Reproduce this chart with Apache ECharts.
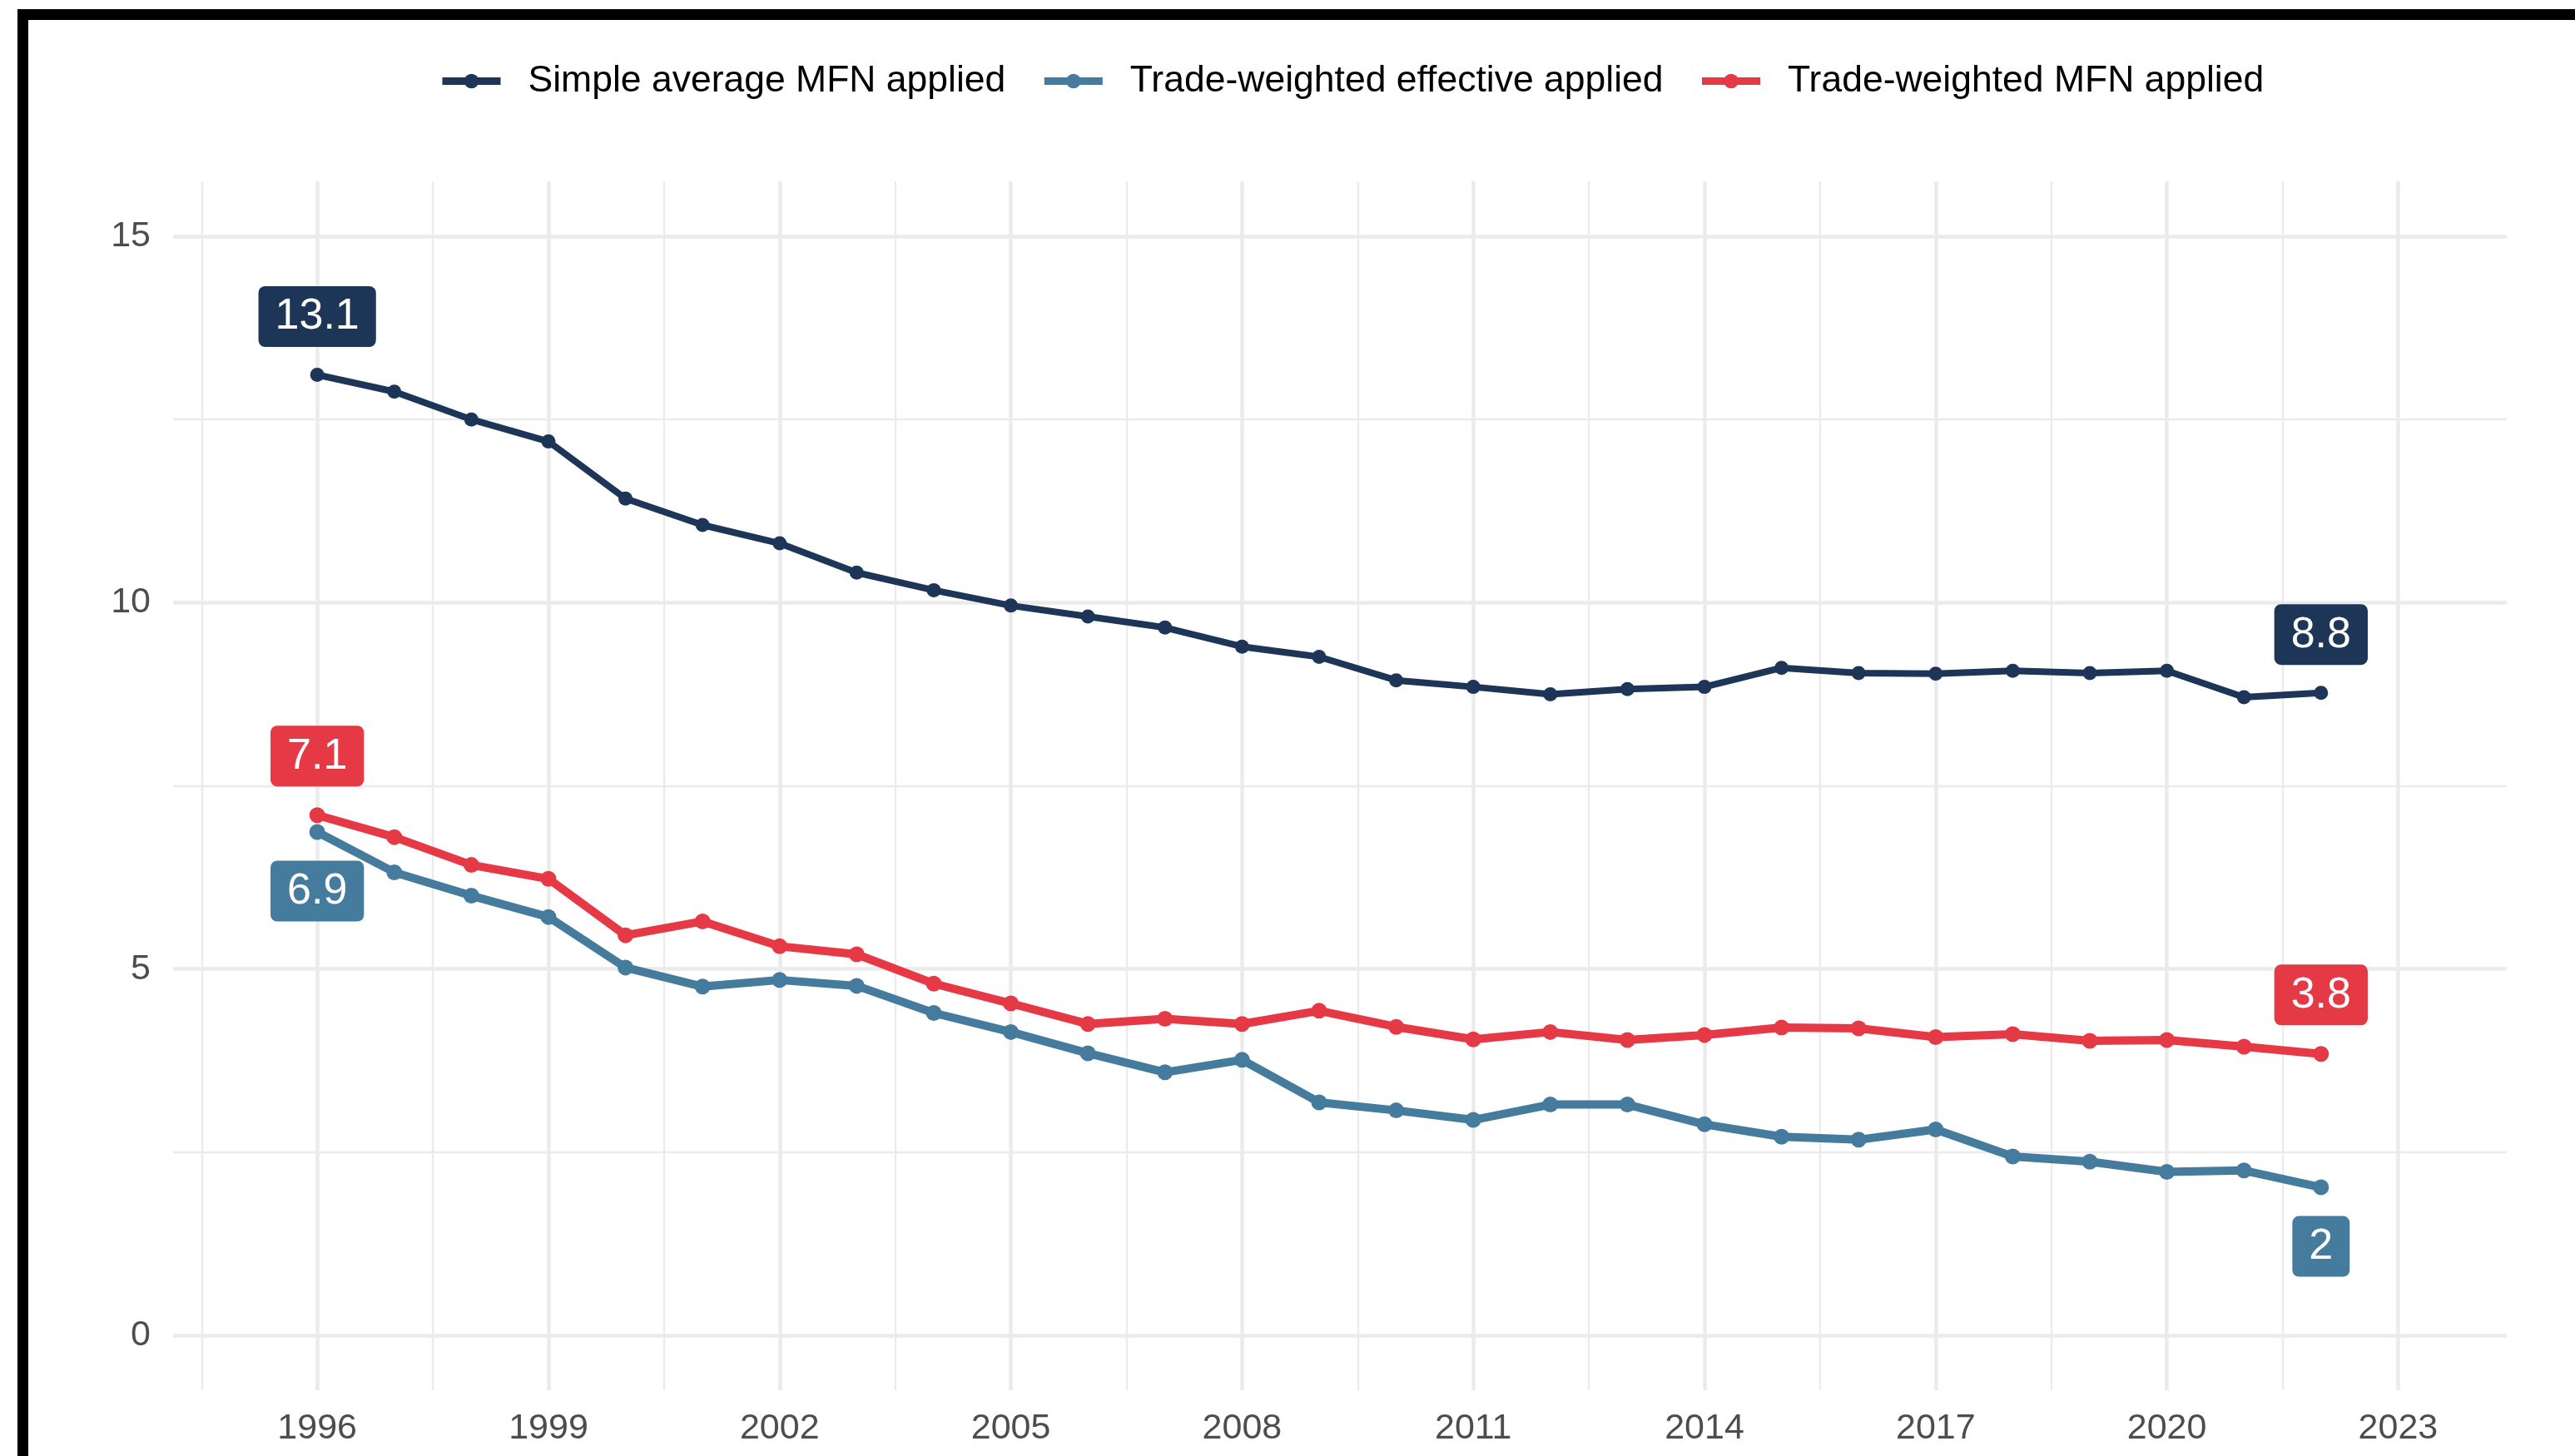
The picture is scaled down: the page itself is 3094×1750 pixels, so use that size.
<!DOCTYPE html>
<html>
<head>
<meta charset="utf-8">
<title>Tariff rates</title>
<script src="https://cdn.jsdelivr.net/npm/echarts@6/dist/echarts.min.js"></script>
<style>
  html, body { margin: 0; padding: 0; background: #fff; }
  #chart { width: 3094px; height: 1750px; }
</style>
</head>
<body>
<div id="chart"></div>
<script>
// data
var years = [1996, 1997, 1998, 1999, 2000, 2001, 2002, 2003, 2004, 2005, 2006, 2007, 2008, 2009,
             2010, 2011, 2012, 2013, 2014, 2015, 2016, 2017, 2018, 2019, 2020, 2021, 2022];
var simpleAvg = [13.11, 12.88, 12.50, 12.20, 11.42, 11.06, 10.81, 10.41, 10.17, 9.96, 9.81, 9.66, 9.40, 9.26,
                 8.94, 8.85, 8.75, 8.82, 8.85, 9.11, 9.04, 9.03, 9.07, 9.04, 9.07, 8.71, 8.77];
var tradeEffective = [6.87, 6.32, 6.00, 5.71, 5.02, 4.76, 4.85, 4.77, 4.40, 4.14, 3.85, 3.59, 3.76, 3.18,
                      3.07, 2.94, 3.15, 3.15, 2.88, 2.71, 2.67, 2.81, 2.44, 2.37, 2.23, 2.25, 2.02];
var tradeMfn = [7.10, 6.80, 6.42, 6.23, 5.46, 5.65, 5.31, 5.20, 4.80, 4.53, 4.25, 4.32, 4.25, 4.43,
                4.21, 4.04, 4.14, 4.03, 4.10, 4.20, 4.19, 4.07, 4.11, 4.02, 4.03, 3.94, 3.84];
var seriesNames = ['Simple average MFN applied', 'Trade-weighted effective applied', 'Trade-weighted MFN applied'];

var xTicks = [1996, 1999, 2002, 2005, 2008, 2011, 2014, 2017, 2020, 2023];
var xMinorTicks = [1994.5, 1997.5, 2000.5, 2003.5, 2006.5, 2009.5, 2012.5, 2015.5, 2018.5, 2021.5];
var yTicks = [0, 5, 10, 15];
var yMinorTicks = [2.5, 7.5, 12.5];

var colors = ['#1d3557', '#457b9d', '#e63946'];
var font = '"Liberation Sans", Arial, sans-serif';

function labelFmt(p) {
    return String(Math.round(p.value[1] * 10) / 10);
}

// first and last point of each line carry a boxed value label
function buildData(vals, firstPos, lastPos, color) {
    return vals.map(function (v, i) {
        var item = { value: [years[i], v] };
        var pos = i === 0 ? firstPos : (i === vals.length - 1 ? lastPos : null);
        if (pos) {
            item.label = {
                show: true,
                position: pos,
                distance: 25,
                formatter: labelFmt,
                color: '#fff',
                fontFamily: font,
                fontSize: 52,
                lineHeight: 52,
                padding: [11, 20, 10, 20],
                borderRadius: 8,
                backgroundColor: color
            };
        }
        return item;
    });
}

function makeSeries(name, vals, color, width, size, firstPos, lastPos) {
    return {
        name: name,
        type: 'line',
        data: buildData(vals, firstPos, lastPos, color),
        symbol: 'circle',
        symbolSize: size,
        showSymbol: true,
        color: color,
        lineStyle: { color: color, width: width },
        itemStyle: { color: color },
        emphasis: { disabled: true }
    };
}

var chart = echarts.init(document.getElementById('chart'));

var option = {
    animation: false,
    backgroundColor: '#fff',
    textStyle: { fontFamily: font },
    graphic: [
        { type: 'rect', shape: { x: 21, y: 11, width: 3094 - 21, height: 13 }, style: { fill: '#000' }, z: 100 },
        { type: 'rect', shape: { x: 21, y: 11, width: 13, height: 1750 - 11 }, style: { fill: '#000' }, z: 100 }
    ],
    legend: {
        data: seriesNames,
        left: 522,
        top: 70,
        itemWidth: 70,
        itemHeight: 22,
        itemGap: 42,
        lineStyle: { width: 9 },
        textStyle: { fontSize: 44.5, color: '#000', fontFamily: font, padding: [0, 0, 0, 28] }
    },
    grid: { left: 208, right: 82, top: 218, bottom: 79 },
    xAxis: [
        {
            type: 'value', min: 1994.13, max: 2024.41,
            axisLine: { show: false },
            axisTick: { show: false, customValues: xTicks },
            axisLabel: {
                customValues: xTicks, fontSize: 43, color: '#4d4d4d', margin: 25, fontFamily: font,
                formatter: function (v) { return String(v); }
            },
            splitLine: { show: true, lineStyle: { color: '#ebebeb', width: 4.5 } }
        },
        {
            type: 'value', min: 1994.13, max: 2024.41, position: 'bottom',
            axisLine: { show: false },
            axisTick: { show: false, customValues: xMinorTicks },
            axisLabel: { show: false },
            splitLine: { show: true, lineStyle: { color: '#ebebeb', width: 2.3 } }
        }
    ],
    yAxis: [
        {
            type: 'value', min: -0.75, max: 15.75,
            axisLine: { show: false },
            axisTick: { show: false, customValues: yTicks },
            axisLabel: { customValues: yTicks, fontSize: 43, color: '#4d4d4d', margin: 27, fontFamily: font },
            splitLine: { show: true, lineStyle: { color: '#ebebeb', width: 4.5 } }
        },
        {
            type: 'value', min: -0.75, max: 15.75, position: 'left',
            axisLine: { show: false },
            axisTick: { show: false, customValues: yMinorTicks },
            axisLabel: { show: false },
            splitLine: { show: true, lineStyle: { color: '#ebebeb', width: 2.3 } }
        }
    ],
    series: [
        makeSeries(seriesNames[0], simpleAvg, colors[0], 8, 17, 'top', 'top'),
        makeSeries(seriesNames[1], tradeEffective, colors[1], 10, 19, 'bottom', 'bottom'),
        makeSeries(seriesNames[2], tradeMfn, colors[2], 10, 19, 'top', 'top')
    ]
};

chart.setOption(option);
</script>
</body>
</html>
